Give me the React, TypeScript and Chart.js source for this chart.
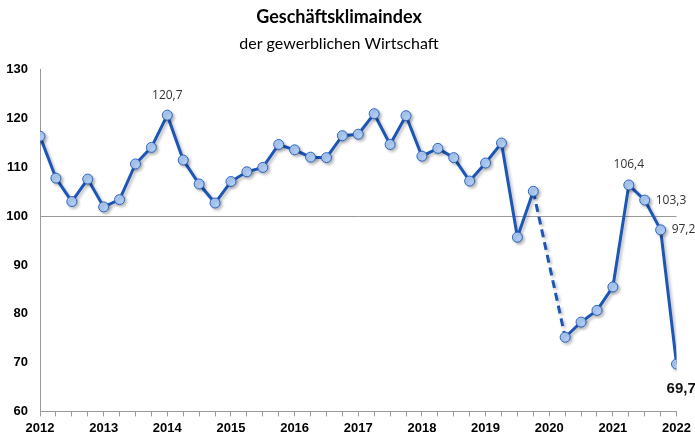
import React, { useEffect, useRef } from "react";
import { Chart, registerables } from "chart.js";
Chart.register(...registerables);

const startYear = 2012;
const endYear = 2022;
// quarterly values, null = no survey (2020 Q1)
const values: (number | null)[] = [
  116.4, 107.8, 103.0, 107.6,
  101.9, 103.4, 110.7, 114.1,
  120.7, 111.5, 106.6, 102.7,
  107.1, 109.1, 110.0, 114.7,
  113.6, 112.1, 112.0, 116.5,
  116.8, 121.0, 114.7, 120.6,
  112.3, 113.9, 112.0, 107.2,
  110.9, 115.0, 95.7, 105.1,
  null, 75.2, 78.3, 80.7,
  85.5, 106.4, 103.3, 97.2,
  69.7,
];
const labelledIndex = [8, 37, 38, 39];
const labelledText = ["120,7", "106,4", "103,3", "97,2"];
const labelledPos = ["top", "top", "right", "right"];
const lastLabel = "69,7";
const yTicks = [60, 70, 80, 90, 100, 110, 120, 130];

const LINE = "#1b56b8";

export default function App() {
  const ref = useRef<HTMLCanvasElement>(null);
  useEffect(() => {
    const pts = values.map((v, i) => ({ x: startYear + i * 0.25, y: v }));
    const labelPlugin = {
      id: "valLabels",
      afterDatasetsDraw(chart: any) {
        const ctx = chart.ctx;
        const meta = chart.getDatasetMeta(0);
        ctx.save();
        ctx.fillStyle = "#333333";
        ctx.font = "12px 'Open Sans', sans-serif";
        labelledIndex.forEach((idx, k) => {
          const el = meta.data[idx];
          if (labelledPos[k] === "top") {
            ctx.textAlign = "center";
            ctx.textBaseline = "middle";
            ctx.fillText(labelledText[k], el.x, el.y - 20);
          } else {
            ctx.textAlign = "left";
            ctx.textBaseline = "middle";
            ctx.fillText(labelledText[k], el.x + 11, el.y);
          }
        });
        const last = meta.data[values.length - 1];
        ctx.fillStyle = "#111111";
        ctx.font = "bold 15px 'Liberation Sans', Arial, sans-serif";
        ctx.textAlign = "left";
        ctx.textBaseline = "middle";
        ctx.fillText(lastLabel, last.x - 10, last.y + 25);
        ctx.restore();
      },
    };
    const shadowPlugin = {
      id: "shadow",
      beforeDatasetsDraw(chart: any) {
        const ctx = chart.ctx;
        ctx.save();
        ctx.shadowColor = "rgba(0,0,0,0.25)";
        ctx.shadowBlur = 3;
        ctx.shadowOffsetX = 2;
        ctx.shadowOffsetY = 2;
      },
      afterDatasetsDraw(chart: any) {
        chart.ctx.restore();
      },
    };
    const chart = new Chart(ref.current!, {
      type: "line",
      data: {
        datasets: [
          {
            data: pts as any,
            borderColor: LINE,
            borderWidth: 3,
            pointRadius: 5,
            pointBorderWidth: 1,
            pointBackgroundColor: "#aecbf3",
            pointBorderColor: "#2c64c2",
            spanGaps: true,
            tension: 0,
            segment: {
              borderDash: (c: any) => (c.p0.skip || c.p1.skip ? [8, 5] : undefined),
            },
          },
        ],
      },
      plugins: [shadowPlugin, labelPlugin],
      options: {
        animation: false,
        responsive: false,
        maintainAspectRatio: false,
        layout: { padding: { left: 0, right: 17, top: 0, bottom: -3 } },
        plugins: {
          legend: { display: false },
          tooltip: { enabled: false },
          title: {
            display: true,
            text: "Geschäftsklimaindex",
            color: "#000",
            font: { family: "Lato, sans-serif", size: 18, weight: "bold" },
            padding: { top: 6, bottom: 7 },
          },
          subtitle: {
            display: true,
            text: "der gewerblichen Wirtschaft",
            color: "#000",
            font: { family: "Lato, sans-serif", size: 16, weight: "normal" },
            padding: { top: 0, bottom: 16 },
          },
        },
        scales: {
          x: {
            type: "linear",
            min: startYear,
            max: endYear,
            afterBuildTicks: (s: any) => {
              const t = [];
              for (let i = 0; i <= (endYear - startYear) * 4; i++) t.push({ value: startYear + i * 0.25 });
              s.ticks = t;
            },
            ticks: {
              autoSkip: false,
              maxRotation: 0,
              color: "#000",
              font: { family: "'Liberation Sans', Arial, sans-serif", size: 13, weight: "bold" },
              padding: 4,
              callback: (v: any) => (Number.isInteger(Number(v)) ? String(v) : ""),
            },
            grid: { drawOnChartArea: false, drawTicks: true, tickLength: 5, color: "#9a9a9a" },
            border: { color: "#9a9a9a", width: 1 },
          },
          y: {
            min: 60,
            max: 130,
            afterBuildTicks: (s: any) => {
              s.ticks = yTicks.map((v) => ({ value: v }));
            },
            afterFit: (s: any) => {
              s.width = 40;
            },
            ticks: {
              color: "#000",
              font: { family: "'Liberation Sans', Arial, sans-serif", size: 13, weight: "bold" },
              padding: 12,
            },
            grid: {
              drawTicks: false,
              color: (c: any) => (c.tick && c.tick.value === 100 ? "#9a9a9a" : "transparent"),
            },
            border: { color: "#9a9a9a", width: 1 },
          },
        },
      },
    });
    return () => chart.destroy();
  }, []);
  return (
    <div style={{ position: "fixed", left: 0, top: 0, width: 695, height: 437, background: "#fff" }}>
      <canvas ref={ref} width={695} height={437} style={{ width: 695, height: 437 }} />
    </div>
  );
}
